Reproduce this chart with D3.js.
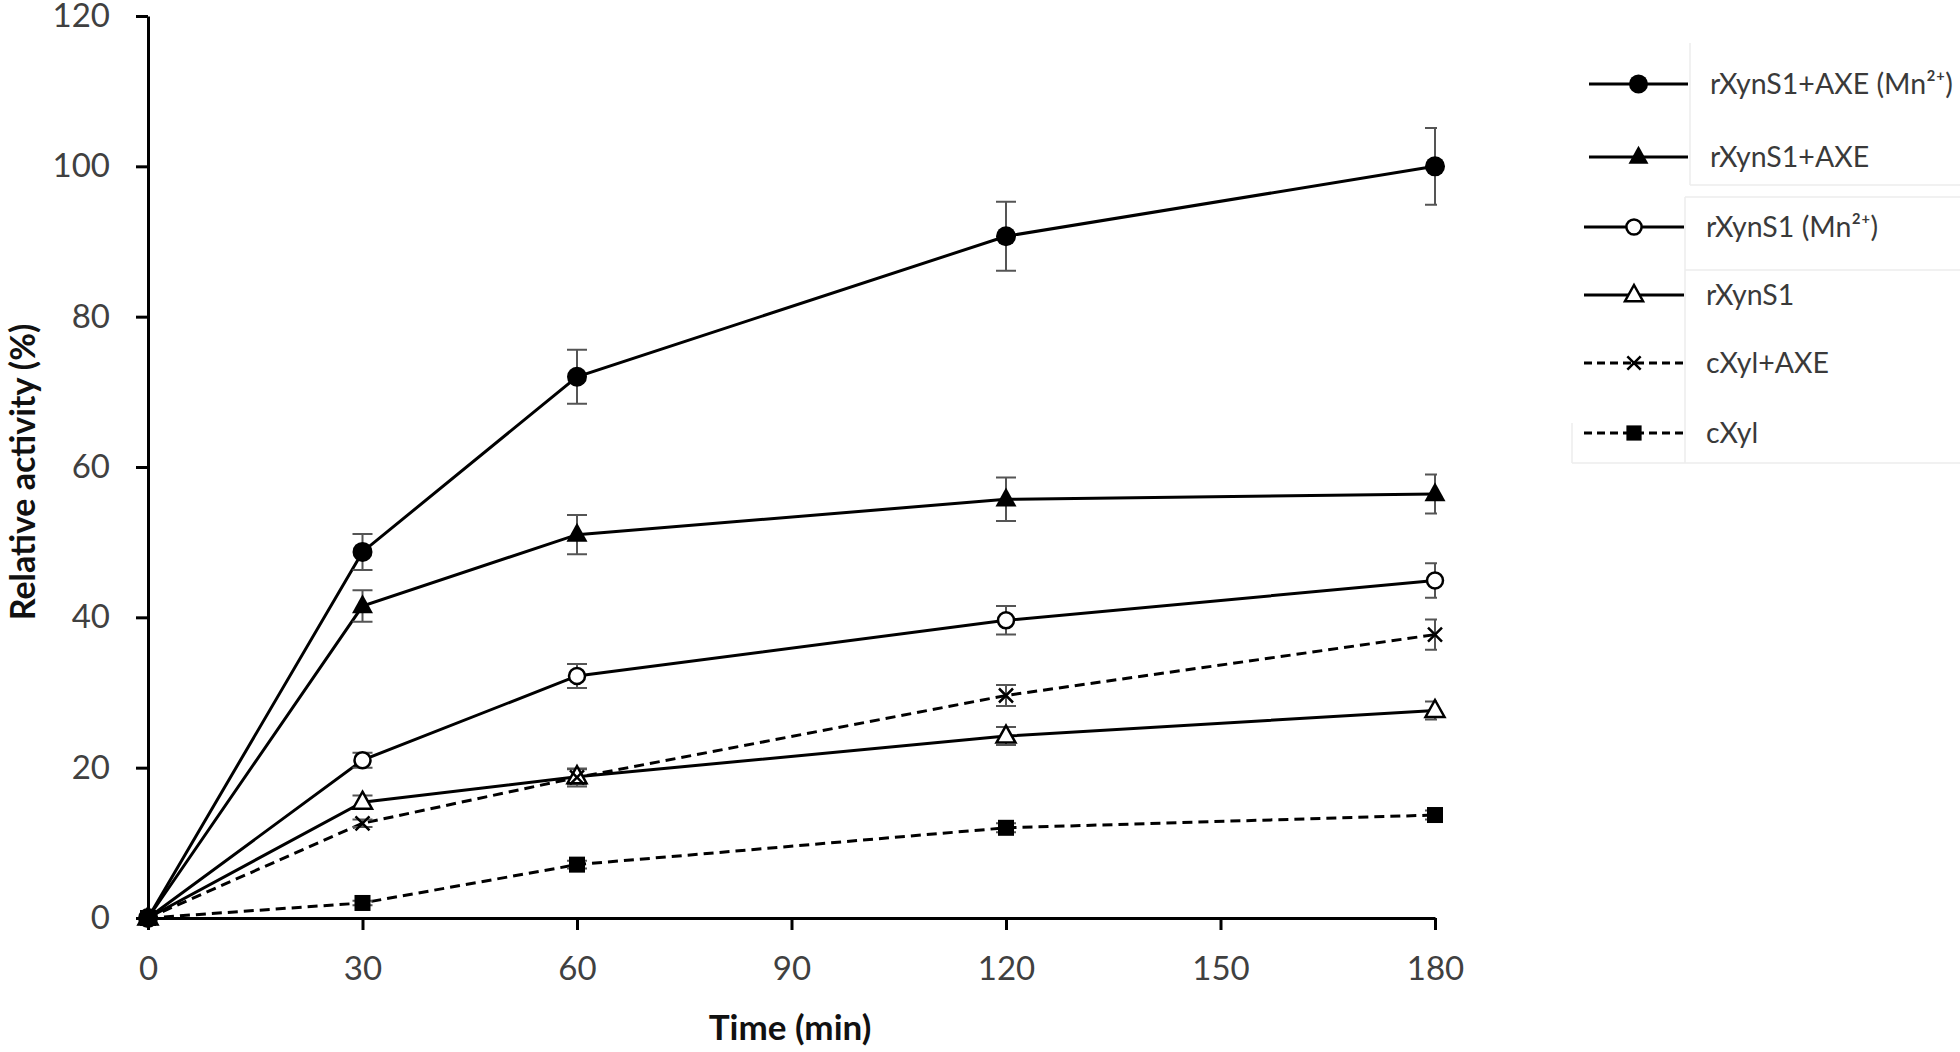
<!DOCTYPE html>
<html>
<head>
<meta charset="utf-8">
<script src="https://cdn.jsdelivr.net/npm/d3@7/dist/d3.min.js"></script>
<style>
  html, body { margin: 0; padding: 0; background: #fff; }
  svg { display: block; }
  text { font-family: Lato, "Open Sans", sans-serif; }
</style>
</head>
<body>
<svg id="chart" width="1960" height="1052"></svg>
<script>
// ---- Data ----
const times = [0, 30, 60, 120, 180];
const xTicks = [0, 30, 60, 90, 120, 150, 180];
const yTicks = [0, 20, 40, 60, 80, 100, 120];

const seriesNames = ["rXynS1+AXE (Mn²⁺)", "rXynS1+AXE", "rXynS1 (Mn²⁺)", "rXynS1", "cXyl+AXE", "cXyl"];

const rXynS1_AXE_Mn     = [0, 48.7, 72.0, 90.7, 100.0];
const rXynS1_AXE_Mn_err = [0, 2.4, 3.6, 4.6, 5.1];
const rXynS1_AXE        = [0, 41.5, 51.0, 55.7, 56.4];
const rXynS1_AXE_err    = [0, 2.1, 2.6, 2.9, 2.6];
const rXynS1_Mn         = [0, 21.0, 32.2, 39.6, 44.9];
const rXynS1_Mn_err     = [0, 1.0, 1.6, 1.9, 2.3];
const rXynS1            = [0, 15.4, 18.8, 24.2, 27.6];
const rXynS1_err        = [0, 0.9, 1.0, 1.2, 1.2];
const cXyl_AXE          = [0, 12.6, 18.7, 29.6, 37.7];
const cXyl_AXE_err      = [0, 0.5, 1.2, 1.4, 2.0];
const cXyl              = [0, 2.0, 7.1, 12.0, 13.7];
const cXyl_err          = [0, 0.3, 0.5, 0.6, 0.6];

const seriesValues = [rXynS1_AXE_Mn, rXynS1_AXE, rXynS1_Mn, rXynS1, cXyl_AXE, cXyl];
const seriesErrors = [rXynS1_AXE_Mn_err, rXynS1_AXE_err, rXynS1_Mn_err, rXynS1_err, cXyl_AXE_err, cXyl_err];
const seriesMarkers = ["circleFilled", "triangleFilled", "circleOpen", "triangleOpen", "cross", "square"];
const seriesDashed = [false, false, false, false, true, true];

// ---- Layout ----
const svg = d3.select("#chart");
const x = d3.scaleLinear().domain([0, 180]).range([148, 1435]);
const y = d3.scaleLinear().domain([0, 120]).range([918, 16]);

const tickColor = "#404040";

// clip for error bars (right half of caps at the last point are cut in the original)
svg.append("defs").append("clipPath").attr("id", "plotclip")
  .append("rect").attr("x", 0).attr("y", 0).attr("width", x(180) + 2).attr("height", 1052);

// Axes
const yAxis = d3.axisLeft(y).tickValues(yTicks).tickSize(12).tickSizeOuter(0).tickPadding(26);
const xAxis = d3.axisBottom(x).tickValues(xTicks).tickSize(12).tickSizeOuter(0).tickPadding(27);

const gy = svg.append("g").attr("transform", `translate(${x(0)},0)`).call(yAxis);
const gx = svg.append("g").attr("transform", `translate(0,${y(0)})`).call(xAxis);

[gy, gx].forEach(g => {
  g.select(".domain").attr("stroke", "#000").attr("stroke-width", 3);
  g.selectAll(".tick line").attr("stroke", "#000").attr("stroke-width", 3);
  g.selectAll(".tick text").attr("fill", tickColor).style("font-size", "33px")
    .style("font-family", "Lato, 'Open Sans', sans-serif");
});

// Axis titles
svg.append("text")
  .attr("x", 790).attr("y", 1040)
  .attr("text-anchor", "middle")
  .style("font-size", "35px").style("font-weight", "bold").attr("fill", "#111")
  .text("Time (min)");

svg.append("text")
  .attr("transform", `translate(35,${472}) rotate(-90)`)
  .attr("text-anchor", "middle")
  .style("font-size", "34px").style("font-weight", "bold").attr("fill", "#111")
  .text("Relative activity (%)");

// Marker drawing
function drawMarker(g, type, cx, cy, scale) {
  const s = scale || 1;
  switch (type) {
    case "circleFilled":
      g.append("circle").attr("cx", cx).attr("cy", cy).attr("r", 10 * s).attr("fill", "#000");
      break;
    case "triangleFilled": {
      const h = 19 * s, w = 21 * s;
      g.append("path").attr("d", `M${cx},${cy - h * 0.62}L${cx + w / 2},${cy + h * 0.38}L${cx - w / 2},${cy + h * 0.38}Z`)
        .attr("fill", "#000");
      break;
    }
    case "circleOpen":
      g.append("circle").attr("cx", cx).attr("cy", cy).attr("r", 8 * s)
        .attr("fill", "#fff").attr("stroke", "#000").attr("stroke-width", 2.5);
      break;
    case "triangleOpen": {
      const h = 17 * s, w = 19 * s;
      g.append("path").attr("d", `M${cx},${cy - h * 0.62}L${cx + w / 2},${cy + h * 0.38}L${cx - w / 2},${cy + h * 0.38}Z`)
        .attr("fill", "#fff").attr("stroke", "#000").attr("stroke-width", 2.5);
      break;
    }
    case "cross": {
      const r = 7 * s;
      g.append("path").attr("d", `M${cx - r},${cy - r}L${cx + r},${cy + r}M${cx - r},${cy + r}L${cx + r},${cy - r}`)
        .attr("stroke", "#000").attr("stroke-width", 2.5).attr("fill", "none");
      break;
    }
    case "square": {
      const a = 16 * s;
      g.append("rect").attr("x", cx - a / 2).attr("y", cy - a / 2).attr("width", a).attr("height", a).attr("fill", "#000");
      break;
    }
  }
}

const line = d3.line().x(d => x(d[0])).y(d => y(d[1]));

// Lines
const linesG = svg.append("g");
seriesValues.forEach((vals, i) => {
  linesG.append("path")
    .datum(times.map((t, k) => [t, vals[k]]))
    .attr("d", line)
    .attr("fill", "none")
    .attr("stroke", "#000")
    .attr("stroke-width", 3)
    .attr("stroke-dasharray", seriesDashed[i] ? "10,6" : null);
});

// Error bars
const errG = svg.append("g").attr("clip-path", "url(#plotclip)");
seriesValues.forEach((vals, i) => {
  times.forEach((t, k) => {
    const e = seriesErrors[i][k];
    if (!e) return;
    const cx = x(t), y1 = y(vals[k] + e), y2 = y(vals[k] - e);
    const cw = 10;
    errG.append("path")
      .attr("d", `M${cx},${y1}L${cx},${y2}M${cx - cw},${y1}L${cx + cw},${y1}M${cx - cw},${y2}L${cx + cw},${y2}`)
      .attr("stroke", "#555").attr("stroke-width", 2).attr("fill", "none");
  });
});

// Markers
const markG = svg.append("g");
seriesValues.forEach((vals, i) => {
  times.forEach((t, k) => drawMarker(markG, seriesMarkers[i], x(t), y(vals[k]), 1));
});

// Legend
const legendRows = [84, 157, 227, 295, 363, 433];
const legG = svg.append("g");
const frameColor = "#ececec";
[[1690, 43, 1690, 185], [1690, 185, 1960, 185], [1685, 197, 1685, 463], [1685, 197, 1960, 197],
 [1685, 270, 1960, 270], [1572, 463, 1960, 463], [1572, 423, 1572, 463]].forEach(l => {
  legG.append("line").attr("x1", l[0]).attr("y1", l[1]).attr("x2", l[2]).attr("y2", l[3])
    .attr("stroke", frameColor).attr("stroke-width", 1.5);
});
seriesNames.forEach((name, i) => {
  const ly = legendRows[i];
  const x1 = i < 2 ? 1589 : 1584, x2 = i < 2 ? 1688 : 1684;
  legG.append("line").attr("x1", x1).attr("x2", x2).attr("y1", ly).attr("y2", ly)
    .attr("stroke", "#000").attr("stroke-width", 3)
    .attr("stroke-dasharray", seriesDashed[i] ? "8,5" : null);
  drawMarker(legG, seriesMarkers[i], (x1 + x2) / 2, ly, 0.95);
  legG.append("text")
    .attr("x", i < 2 ? 1710 : 1706).attr("y", ly + 10)
    .attr("fill", "#3a3a3a")
    .style("font-size", "28.5px")
    .text(name);
});
</script>
</body>
</html>
